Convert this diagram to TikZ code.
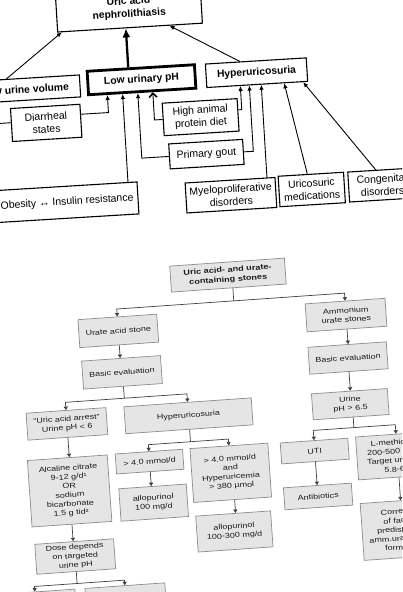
\documentclass[tikz,border=0pt]{standalone}
\usepackage{fontspec}
\setmainfont{Liberation Sans}
\newfontfamily\widefont[FakeStretch=1.25]{Liberation Sans}
\usetikzlibrary{arrows.meta}
\begin{document}
\begin{tikzpicture}[x=1pt,y=-1pt,
  sz/.style 2 args={minimum width=#1pt,minimum height=#2pt},
  tbox/.style={draw, line width=1.1pt, align=center, inner sep=0pt, font=\fontsize{10.5}{12.7}\selectfont},
  tboxb/.style={tbox, font=\fontsize{10.3}{12.7}\selectfont\bfseries},
  tarr/.style={line width=0.9pt, -{Latex[length=5pt,width=4.5pt]}},
  thickarr/.style={line width=2.3pt, -{Latex[length=9pt,width=8pt]}},
  barbarr/.style={line width=0.9pt, -{Straight Barb[length=4pt,width=8pt,line width=1.6pt]}},
  bbox/.style={draw=black!45, fill=black!10, line width=0.7pt, align=center, inner sep=0pt, text=black!90, font=\widefont\fontsize{7.2}{9}\selectfont},
  bboxb/.style={bbox, font=\widefont\fontsize{7.3}{9.6}\selectfont\bfseries},
  barr/.style={draw=black!75, line width=0.7pt, -{Triangle[length=3.5pt,width=4pt]}},
]
\clip (0,0) rectangle (402,592);
\fill[white] (0,0) rectangle (402,592);

% ---------- top diagram ----------
\begin{scope}[transform canvas={rotate around={3.5:(150,100)}}]
\node[tboxb, sz={145}{39}] (neph) at (134.5,7) {Uric acid\\nephrolithiasis};
\node[tboxb, sz={110}{22}] (luv) at (26,81.7) {Low urine volume};
\node[tboxb, sz={107.5}{23.5}, line width=2.8pt] (lowph) at (142.75,79.25) {Low urinary pH};
\node[tboxb, sz={101}{23.5}] (hyp) at (258,79.25) {Hyperuricosuria};
\node[tbox, sz={69.5}{33}] (diar) at (45,116.5) {Diarrheal\\states};
\node[tbox, sz={75}{32.5}] (hap) at (199.5,120.2) {High animal\\protein diet};
\node[tbox, sz={74}{25}] (pg) at (203,157.5) {Primary gout};
\node[tbox, sz={142}{32}] (ob) at (61,197) {Obesity ↔ Insulin resistance};
\node[tbox, sz={90}{30}] (myelo) at (225,200) {Myeloproliferative\\disorders};
\node[tbox, sz={65.5}{30.5}] (uric) at (306,199.2) {Uricosuric\\medications};
\node[tbox, sz={67}{30}] (cong) at (376.5,199) {Congenital\\disorders};

\draw[tarr] ([xshift=-18pt]luv.north) -- ([xshift=-68.5pt]neph.south);
\draw[thickarr] ([xshift=-12.5pt]lowph.north) -- ([xshift=-12.5pt]lowph.north |- neph.south);
\draw[tarr] ([xshift=-16pt]hyp.north) -- ([xshift=39.5pt]neph.south);
\draw[tarr] ([yshift=6.5pt]diar.east) -| ([xshift=-35pt]lowph.south);
\draw[tarr] ([yshift=2.3pt]diar.west) -| ([xshift=-40pt]luv.south);
\draw[tarr] ([xshift=62pt]ob.north) -- ([xshift=62pt]ob.north |- lowph.south);
\draw[tarr] (pg.west) -| ([xshift=-4.5pt]lowph.south);
\draw[barbarr] (hap.west) -| ([xshift=10.5pt]lowph.south);
\draw[tarr] ([yshift=5pt]hap.east) -| ([xshift=-17pt]hyp.south);
\draw[tarr] (pg.east) -| ([xshift=-8pt]hyp.south);
\draw[tarr] ([xshift=37pt]myelo.north) -- ([xshift=37pt]myelo.north |- hyp.south);
\draw[tarr] ([xshift=-3.5pt]uric.north) -- ([xshift=27pt]hyp.south);
\draw[tarr] ([xshift=-5.5pt]cong.north) -- ([xshift=46pt]hyp.south);
\end{scope}

% ---------- bottom diagram ----------
\begin{scope}[transform canvas={rotate around={4:(200,420)}}]
\node[bboxb, sz={115}{26}] (title) at (238,277.4) {Uric acid- and urate-\\containing stones};
\node[bbox, sz={79}{28}] (uas) at (124.7,325.4) {Urate acid stone};
\node[bbox, sz={80}{28}] (amm) at (353,325.5) {Ammonium\\urate stones};
\node[bbox, sz={79}{28}] (be1) at (125.5,367) {Basic evaluation};
\node[bbox, sz={78.5}{27}] (be2) at (352,368.5) {Basic evaluation};
\node[bbox, sz={76}{26}] (urine) at (351,414.7) {Urine\\pH > 6.5};
\node[bbox, sz={80}{27}] (uaa) at (67,414.6) {“Uric acid arrest”\\Urine pH < 6};
\node[bbox, sz={127.6}{27}] (hyp2) at (188.8,415) {Hyperuricosuria};
\node[bbox, sz={80}{66.6}] (alc) at (65,481.7) {Alcaline citrate\\9-12 g/d¹\\OR\\sodium\\bicarbonate\\1.5 g tid²};
\node[bbox, sz={79}{30}] (dose) at (66,547.5) {Dose depends\\on targeted\\urine pH};
\node[bbox, sz={67.5}{20}] (m1) at (146.8,458) {> 4.0 mmol/d};
\node[bbox, sz={67.6}{32.5}] (allo1) at (148,499.2) {allopurinol\\100 mg/d};
\node[bbox, sz={78}{54}] (m2) at (227,474.8) {> 4.0 mmol/d\\and\\Hyperuricemia\\> 380 µmol};
\node[bbox, sz={75}{36}] (allo2) at (226.5,533.6) {allopurinol\\100-300 mg/d};
\node[bbox, sz={67.7}{21}] (uti) at (312.3,459) {UTI};
\node[bbox, sz={68}{22}] (anti) at (312.5,504.5) {Antibiotics};
\node[bbox, sz={81}{43}] (lmet) at (394.5,469.3) {L-methionine\\200-500 mg tid\\Target urine pH\\5.8-6.2};
\node[bbox, sz={81}{57}] (corr) at (394.5,543) {Correction\\of factors\\predisposing\\amm.urate stone\\formation};
\node[bbox, sz={80}{38}] (b1) at (23.3,599) {};
\node[bbox, sz={80}{38}] (b2) at (113.5,599) {};

\coordinate (j1) at (242,303.5);
\draw[barr] (j1 |- title.south) -- (j1) -| (uas.north);
\draw[barr] (j1) -| (amm.north);
\draw[barr] (uas.south) -- (uas.south |- be1.north);
\draw[barr] (amm.south) -- (amm.south |- be2.north);
\draw[barr] (be2.south) -- (be2.south |- urine.north);
\coordinate (j2) at (126,393);
\draw[barr] (j2 |- be1.south) -- (j2) -| (uaa.north);
\draw[barr] (j2) -| (hyp2.north);
\coordinate (j3) at (189,441);
\draw[barr] (j3 |- hyp2.south) -- (j3) -| (m1.north);
\draw[barr] (j3) -| (m2.north);
\coordinate (j4) at (353,438.3);
\draw[barr] (j4 |- urine.south) -- (j4) -| (uti.north);
\draw[barr] (j4) -| (lmet.north);
\draw[barr] (uaa.south) -- (uaa.south |- alc.north);
\draw[barr] (alc.south) -- (alc.south |- dose.north);
\coordinate (j5) at (66,574.5);
\draw[barr] (j5 |- dose.south) -- (j5) -| (b1.north);
\draw[barr] (j5) -| (b2.north);
\draw[barr] (m1.south) -- (m1.south |- allo1.north);
\draw[barr] ([xshift=2pt]m2.south) -- ([xshift=2pt]m2.south |- allo2.north);
\draw[barr] (uti.south) -- (uti.south |- anti.north);
\draw[barr] (lmet.south) -- (lmet.south |- corr.north);
\end{scope}
\end{tikzpicture}
\end{document}
